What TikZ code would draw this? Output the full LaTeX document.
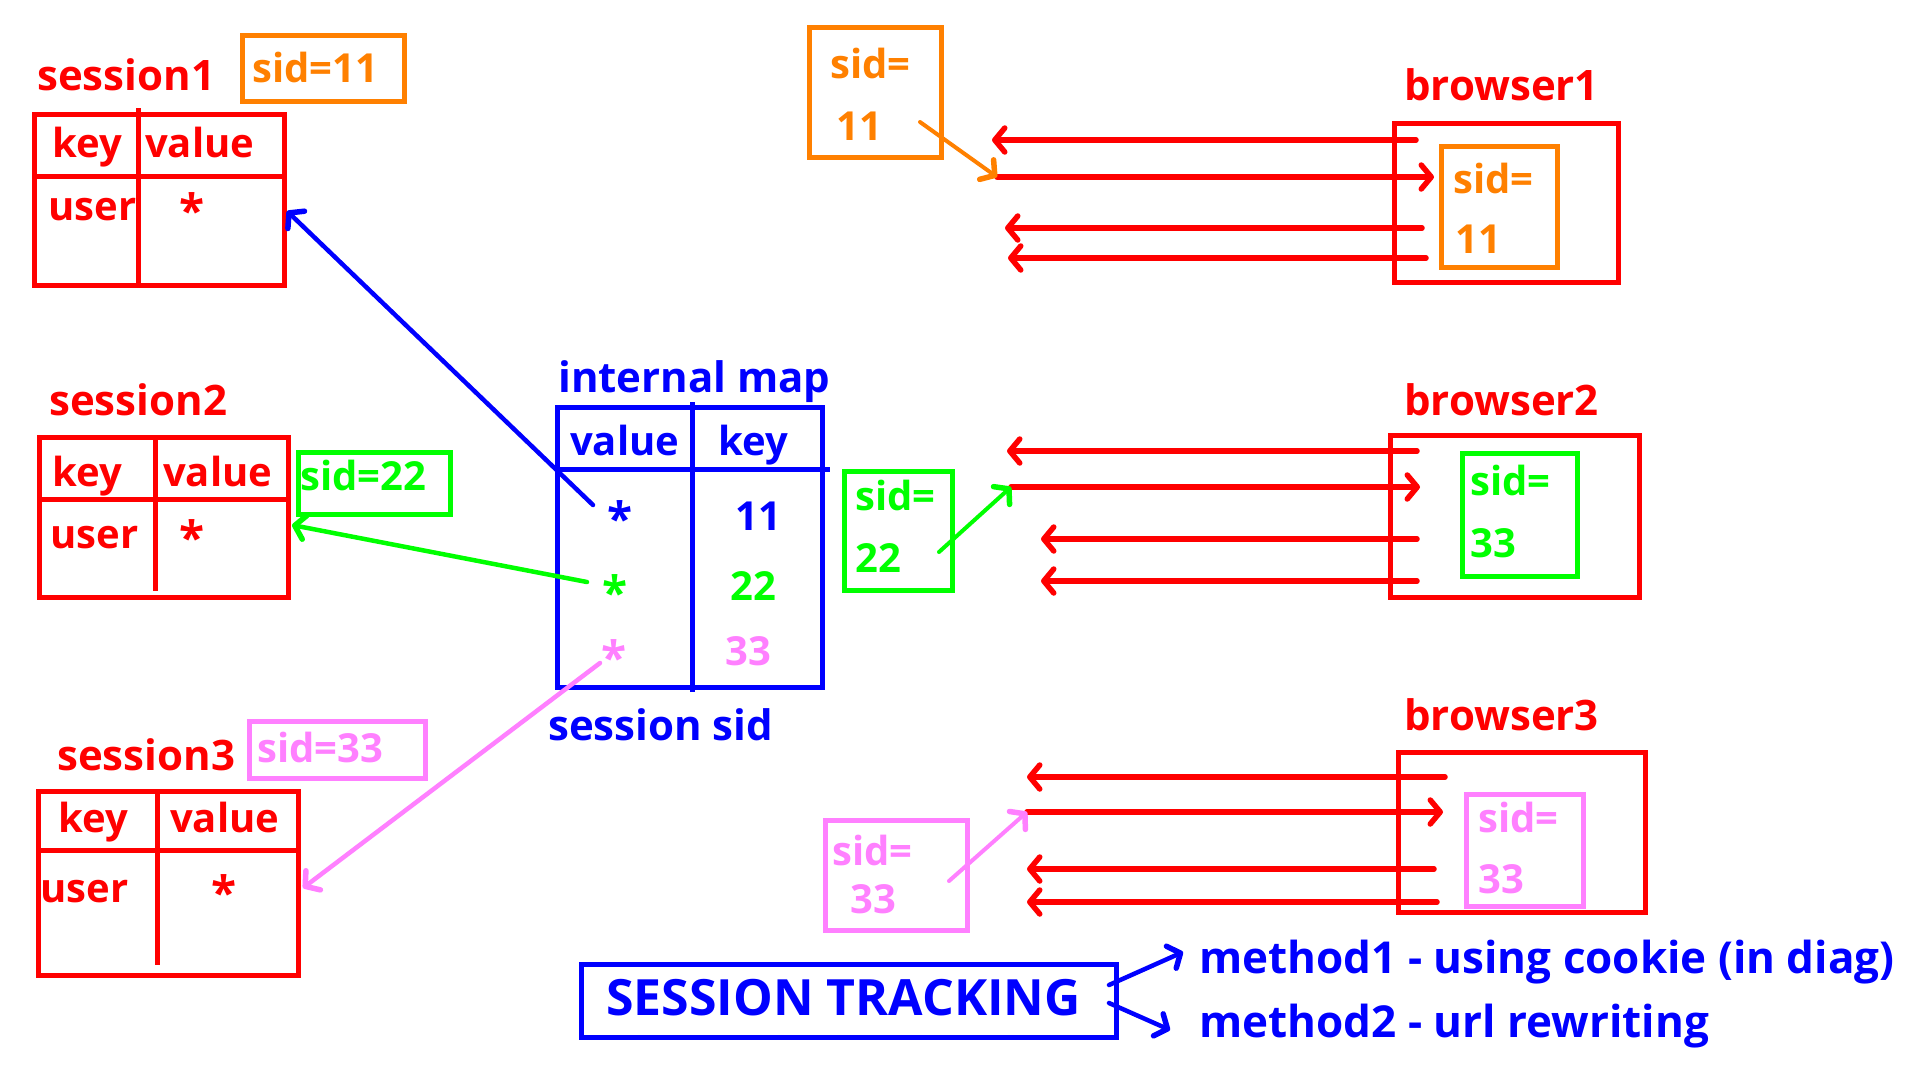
\documentclass[tikz,border=0pt]{standalone}
\usepackage{fontspec}
\setmainfont{Open Sans}
\usetikzlibrary{arrows.meta}
\definecolor{cred}{RGB}{255,0,0}
\definecolor{corange}{RGB}{255,128,0}
\definecolor{cgreen}{RGB}{0,255,0}
\definecolor{cpink}{RGB}{255,128,255}
\definecolor{cblue}{RGB}{0,0,255}
\tikzset{
  lbl/.style={inner sep=0pt, anchor=base west, font=\bfseries\fontsize{40}{48}\selectfont},
  big/.style={lbl, font=\bfseries\fontsize{42}{48}\selectfont},
  starn/.style={inner sep=0pt, anchor=base, font=\bfseries\fontsize{46}{48}\selectfont},
  frame/.style={draw, line width=5pt, inner sep=0pt, anchor=north west},
  rule/.style={line width=5pt},
  arr/.style={line width=5.5pt, line cap=round, -{Straight Barb[length=10pt,width=24pt,line width=5.5pt,line cap=round,line join=round]}},
}
\newcommand\mkframe[6]{\node[frame,draw=#6,minimum width={#4-#2},minimum height={#5-#3}] (#1) at (#2,#3) {};}
\begin{document}
\begin{tikzpicture}[x=1pt,y=-1pt]
\fill[white] (0,0) rectangle (1920,1080);
\useasboundingbox (0,0) rectangle (1920,1080);

% ---------- session1 ----------
\node[big,cred] (s1lbl) at (37,90) {session1};
\mkframe{s1}{32}{112}{282}{283}{cred}
\draw[rule,cred] (138,108) -- (138,283);
\draw[rule,cred] (32,176) -- (282,176);
\node[lbl,cred] (s1k) at (52,157) {key};
\node[lbl,cred] (s1v) at (145,157) {value};
\node[lbl,cred] (s1u) at (48,220) {user};
\node[starn,cred] (s1s) at (192,227) {*};
\mkframe{sid11}{240}{33}{402}{99}{corange}
\node[lbl,corange] (sid11t) at (252,82) {sid=11};

% ---------- session2 ----------
\node[big,cred] (s2lbl) at (49,415) {session2};
\mkframe{s2}{37}{435}{286}{595}{cred}
\draw[rule,cred] (155,435) -- (155,591);
\draw[rule,cred] (37,499) -- (286,499);
\node[lbl,cred] (s2k) at (52,486) {key};
\node[lbl,cred] (s2v) at (163,486) {value};
\node[lbl,cred] (s2u) at (50,548) {user};
\node[starn,cred] (s2s) at (192,554) {*};
\mkframe{sid22}{296}{450}{448}{512}{cgreen}
\node[lbl,cgreen] (sid22t) at (300,490) {sid=22};

% ---------- session3 ----------
\node[big,cred] (s3lbl) at (57,770) {session3};
\mkframe{s3}{36}{789}{296}{973}{cred}
\draw[rule,cred] (157,789) -- (157,965);
\draw[rule,cred] (36,850) -- (296,850);
\node[lbl,cred] (s3k) at (58,832) {key};
\node[lbl,cred] (s3v) at (170,832) {value};
\node[lbl,cred] (s3u) at (40,902) {user};
\node[starn,cred] (s3s) at (224,909) {*};
\mkframe{sid33}{247}{719}{423}{776}{cpink}
\node[lbl,cpink] (sid33t) at (257,762) {sid=33};

% ---------- internal map ----------
\node[big,cblue] (maplbl) at (558,392) {internal map};
\mkframe{map}{555}{405}{820}{685}{cblue}
\draw[rule,cblue] (692,402) -- (692,692);
\draw[rule,cblue] (555,469) -- (830,469);
\node[lbl,cblue] (mv) at (570,455) {value};
\node[lbl,cblue] (mk) at (718,455) {key};
\node[starn,cblue] (ms1) at (620,535) {*};
\node[lbl,cblue] (m11) at (735,530) {11};
\node[starn,cgreen] (ms2) at (615,609) {*};
\node[lbl,cgreen] (m22) at (730,600) {22};
\node[starn,cpink] (ms3) at (614,674) {*};
\node[lbl,cpink] (m33) at (725,665) {33};
\node[big,cblue] (msid) at (548,740) {session sid};

\coordinate (bA) at (593,505);
\coordinate (bB) at (287,211);
\draw[arr,cblue,line width=4.5pt] (bA) -- (bB);
\coordinate (gA) at (587,582);
\coordinate (gB) at (292,525);
\draw[arr,cgreen,line width=4.5pt] (gA) -- (gB);
\coordinate (pA) at (600,663);
\coordinate (pB) at (303,888);
\draw[arr,cpink,line width=4.5pt] (pA) -- (pB);

% ---------- browser1 ----------
\mkframe{ck1}{807}{25}{939}{155}{corange}
\node[lbl,corange] (ck1a) at (830,78) {sid=};
\node[lbl,corange] (ck1b) at (836,140) {11};
\node[big,cred] (b1lbl) at (1404,100) {browser1};
\mkframe{b1}{1392}{121}{1616}{280}{cred}
\mkframe{b1c}{1439}{144}{1555}{265}{corange}
\node[lbl,corange] (b1ca) at (1453,193) {sid=};
\node[lbl,corange] (b1cb) at (1455,253) {11};
\coordinate (r11s) at (1416,140); \coordinate (r11e) at (992,140);
\coordinate (r12s) at (997,177);  \coordinate (r12e) at (1434,177);
\coordinate (r13s) at (1422,228); \coordinate (r13e) at (1005,228);
\coordinate (r14s) at (1426,258); \coordinate (r14e) at (1008,258);
\draw[arr,cred] (r11s) -- (r11e);
\draw[arr,cred] (r12s) -- (r12e);
\draw[arr,cred] (r13s) -- (r13e);
\draw[arr,cred] (r14s) -- (r14e);
\coordinate (o1) at (920,122);
\draw[arr,corange,line width=4pt] (o1) -- (r12s);

% ---------- browser2 ----------
\mkframe{ck2}{842}{469}{950}{588}{cgreen}
\node[lbl,cgreen] (ck2a) at (855,510) {sid=};
\node[lbl,cgreen] (ck2b) at (855,572) {22};
\node[big,cred] (b2lbl) at (1404,415) {browser2};
\mkframe{b2}{1388}{433}{1637}{595}{cred}
\mkframe{b2c}{1460}{451}{1575}{574}{cgreen}
\node[lbl,cgreen] (b2ca) at (1470,495) {sid=};
\node[lbl,cgreen] (b2cb) at (1470,557) {33};
\coordinate (r21s) at (1417,451); \coordinate (r21e) at (1007,451);
\coordinate (r22s) at (1011,487); \coordinate (r22e) at (1420,487);
\coordinate (r23s) at (1417,539); \coordinate (r23e) at (1041,539);
\coordinate (r24s) at (1417,581); \coordinate (r24e) at (1041,581);
\draw[arr,cred] (r21s) -- (r21e);
\draw[arr,cred] (r22s) -- (r22e);
\draw[arr,cred] (r23s) -- (r23e);
\draw[arr,cred] (r24s) -- (r24e);
\coordinate (g2) at (939,552);
\draw[arr,cgreen,line width=4pt] (g2) -- (r22s);

% ---------- browser3 ----------
\mkframe{ck3}{823}{818}{965}{928}{cpink}
\node[lbl,cpink] (ck3a) at (832,865) {sid=};
\node[lbl,cpink] (ck3b) at (850,913) {33};
\node[big,cred] (b3lbl) at (1404,730) {browser3};
\mkframe{b3}{1396}{750}{1643}{910}{cred}
\mkframe{b3c}{1464}{792}{1581}{904}{cpink}
\node[lbl,cpink] (b3ca) at (1478,832) {sid=};
\node[lbl,cpink] (b3cb) at (1478,893) {33};
\coordinate (r31s) at (1445,777); \coordinate (r31e) at (1027,777);
\coordinate (r32s) at (1027,812); \coordinate (r32e) at (1443,812);
\coordinate (r33s) at (1434,869); \coordinate (r33e) at (1027,869);
\coordinate (r34s) at (1437,902); \coordinate (r34e) at (1027,902);
\draw[arr,cred] (r31s) -- (r31e);
\draw[arr,cred] (r32s) -- (r32e);
\draw[arr,cred] (r33s) -- (r33e);
\draw[arr,cred] (r34s) -- (r34e);
\coordinate (p3) at (949,881);
\draw[arr,cpink,line width=4pt] (p3) -- (r32s);

% ---------- session tracking ----------
\mkframe{st}{579}{962}{1114}{1035}{cblue}
\node[lbl,cblue,font=\bfseries\fontsize{50}{54}\selectfont] (stt) at (606,1015) {SESSION TRACKING};
\node[lbl,cblue,font=\bfseries\fontsize{44}{50}\selectfont] (m1) at (1199,973) {method1 - using cookie (in diag)};
\node[lbl,cblue,font=\bfseries\fontsize{44}{50}\selectfont] (m2) at (1199,1037) {method2 - url rewriting};
\coordinate (t1) at (1109,985); \coordinate (t1e) at (1183,952);
\coordinate (t2) at (1109,1003); \coordinate (t2e) at (1170,1030);
\draw[arr,cblue,line width=4.5pt] (t1) -- (t1e);
\draw[arr,cblue,line width=4.5pt] (t2) -- (t2e);
\end{tikzpicture}
\end{document}
